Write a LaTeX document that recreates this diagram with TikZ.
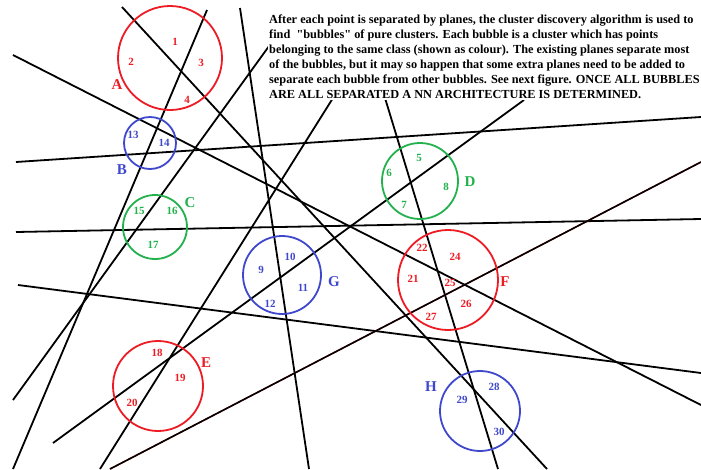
\documentclass[tikz,border=0pt]{standalone}
\usepackage{fontspec}
\setmainfont{Liberation Serif}
\newfontfamily\notefont{Liberation Serif}
\usetikzlibrary{positioning}
\definecolor{bubRed}{RGB}{237,28,36}
\definecolor{bubBlue}{RGB}{63,72,204}
\definecolor{bubGreen}{RGB}{34,177,76}
\tikzset{
  plane/.style={line width=1.8pt, black},
  bubble/.style={draw, circle, line width=1.8pt, inner sep=0pt},
  region/.style={font=\bfseries\fontsize{11}{11}\selectfont, inner sep=0pt},
  tagname/.style={font=\bfseries\fontsize{15}{15}\selectfont, inner sep=0pt},
  notebox/.style={fill=white, font=\notefont\bfseries\fontsize{12.3}{15}\selectfont,
    align=left, anchor=north west, inner sep=1pt}
}

\begin{document}
\begin{tikzpicture}[x=1pt, y=-1pt]
  \useasboundingbox (0,0) rectangle (701,469);
  \clip (0,0) rectangle (701,469);

  % plane end points
  \coordinate (pa1) at (122,7);   \coordinate (pa2) at (547,469);
  \coordinate (pb1) at (207,10);  \coordinate (pb2) at (13,469);
  \coordinate (pc1) at (240,8);   \coordinate (pc2) at (309,469);
  \coordinate (pd1) at (285,24);  \coordinate (pd2) at (13,400);
  \coordinate (pe1) at (333,98);  \coordinate (pe2) at (100,469);
  \coordinate (pf1) at (385,98);  \coordinate (pf2) at (498,469);
  \coordinate (pg1) at (524,100); \coordinate (pg2) at (53,443);
  \coordinate (ph1) at (16,162);  \coordinate (ph2) at (701,117);
  \coordinate (pi1) at (16,232);  \coordinate (pi2) at (701,219);
  \coordinate (pj1) at (18,285);  \coordinate (pj2) at (701,373);
  \coordinate (pk1) at (13,55);   \coordinate (pk2) at (701,405);
  \coordinate (pl1) at (110,469); \coordinate (pl2) at (701,162);

  \foreach \p in {a,b,c,d,e,f,g,h,i,j,k}
    \draw[plane] (p\p1) -- (p\p2);
  % the one plane with a red edge
  \draw[bubRed, line width=1.4pt, yshift=-1.2pt] (pl1) -- (pl2);
  \draw[plane, line width=1.6pt] (pl1) -- (pl2);

  % bubbles
  \node[bubble, draw=bubRed, minimum size=104pt] (bubA) at (170,58) {};
  \node[bubble, draw=bubBlue, minimum size=52pt] (bubB) at (150,143) {};
  \node[bubble, draw=bubGreen, minimum size=64pt] (bubC) at (155,227) {};
  \node[bubble, draw=bubGreen, minimum size=76pt] (bubD) at (420,181) {};
  \node[bubble, draw=bubRed, minimum size=90pt] (bubE) at (158,386) {};
  \node[bubble, draw=bubRed, minimum size=100pt] (bubF) at (448,280) {};
  \node[bubble, draw=bubBlue, minimum size=78pt] (bubG) at (282,275) {};
  \node[bubble, draw=bubBlue, minimum size=80pt] (bubH) at (480,411) {};

  % region numbers
  \begin{scope}[region, text=bubRed]
    \node (r1) at (175,42) {1};
    \node (r2) at (131,62) {2};
    \node (r3) at (201,63) {3};
    \node (r4) at (187,100) {4};
    \node (r18) at (157,353) {18};
    \node (r19) at (180,378) {19};
    \node (r20) at (132,403) {20};
    \node (r21) at (413,279) {21};
    \node (r22) at (422,248) {22};
    \node (r24) at (455,257) {24};
    \node (r25) at (450,283) {25};
    \node (r26) at (466,304) {26};
    \node (r27) at (431,317) {27};
  \end{scope}
  \begin{scope}[region, text=bubBlue]
    \node (r13) at (133,135) {13};
    \node (r14) at (164,143) {14};
    \node (r9) at (261,270) {9};
    \node (r10) at (290,257) {10};
    \node (r11) at (303,288) {11};
    \node (r12) at (270,304) {12};
    \node (r28) at (494,387) {28};
    \node (r29) at (462,400) {29};
    \node (r30) at (499,432) {30};
  \end{scope}
  \begin{scope}[region, text=bubGreen]
    \node (r15) at (139,211) {15};
    \node (r16) at (172,211) {16};
    \node (r17) at (153,245) {17};
    \node (r5) at (419,158) {5};
    \node (r6) at (389,173) {6};
    \node (r7) at (404,205) {7};
    \node (r8) at (446,187) {8};
  \end{scope}

  % bubble names
  \node[tagname, text=bubRed] (tA) at (117,85) {A};
  \node[tagname, text=bubBlue] (tB) at (122,170) {B};
  \node[tagname, text=bubGreen] (tC) at (190,203) {C};
  \node[tagname, text=bubGreen] (tD) at (470,182) {D};
  \node[tagname, text=bubRed] (tE) at (206,363) {E};
  \node[tagname, text=bubRed] (tF) at (505,282) {F};
  \node[tagname, text=bubBlue] (tG) at (334,282) {G};
  \node[tagname, text=bubBlue] (tH) at (431,387) {H};

  \node[notebox] (note) at (268,14)
    {After each point is separated by planes, the cluster discovery algorithm is used to\\
     find\ \ "bubbles" of pure clusters. Each bubble is a cluster which has points\\
     belonging to the same class (shown as colour). The existing planes separate most\\
     of the bubbles, but it may so happen that some extra planes need to be added to\\
     separate each bubble from other bubbles. See next figure. ONCE ALL BUBBLES\\
     ARE ALL SEPARATED A NN ARCHITECTURE IS DETERMINED.};
\end{tikzpicture}
\end{document}
